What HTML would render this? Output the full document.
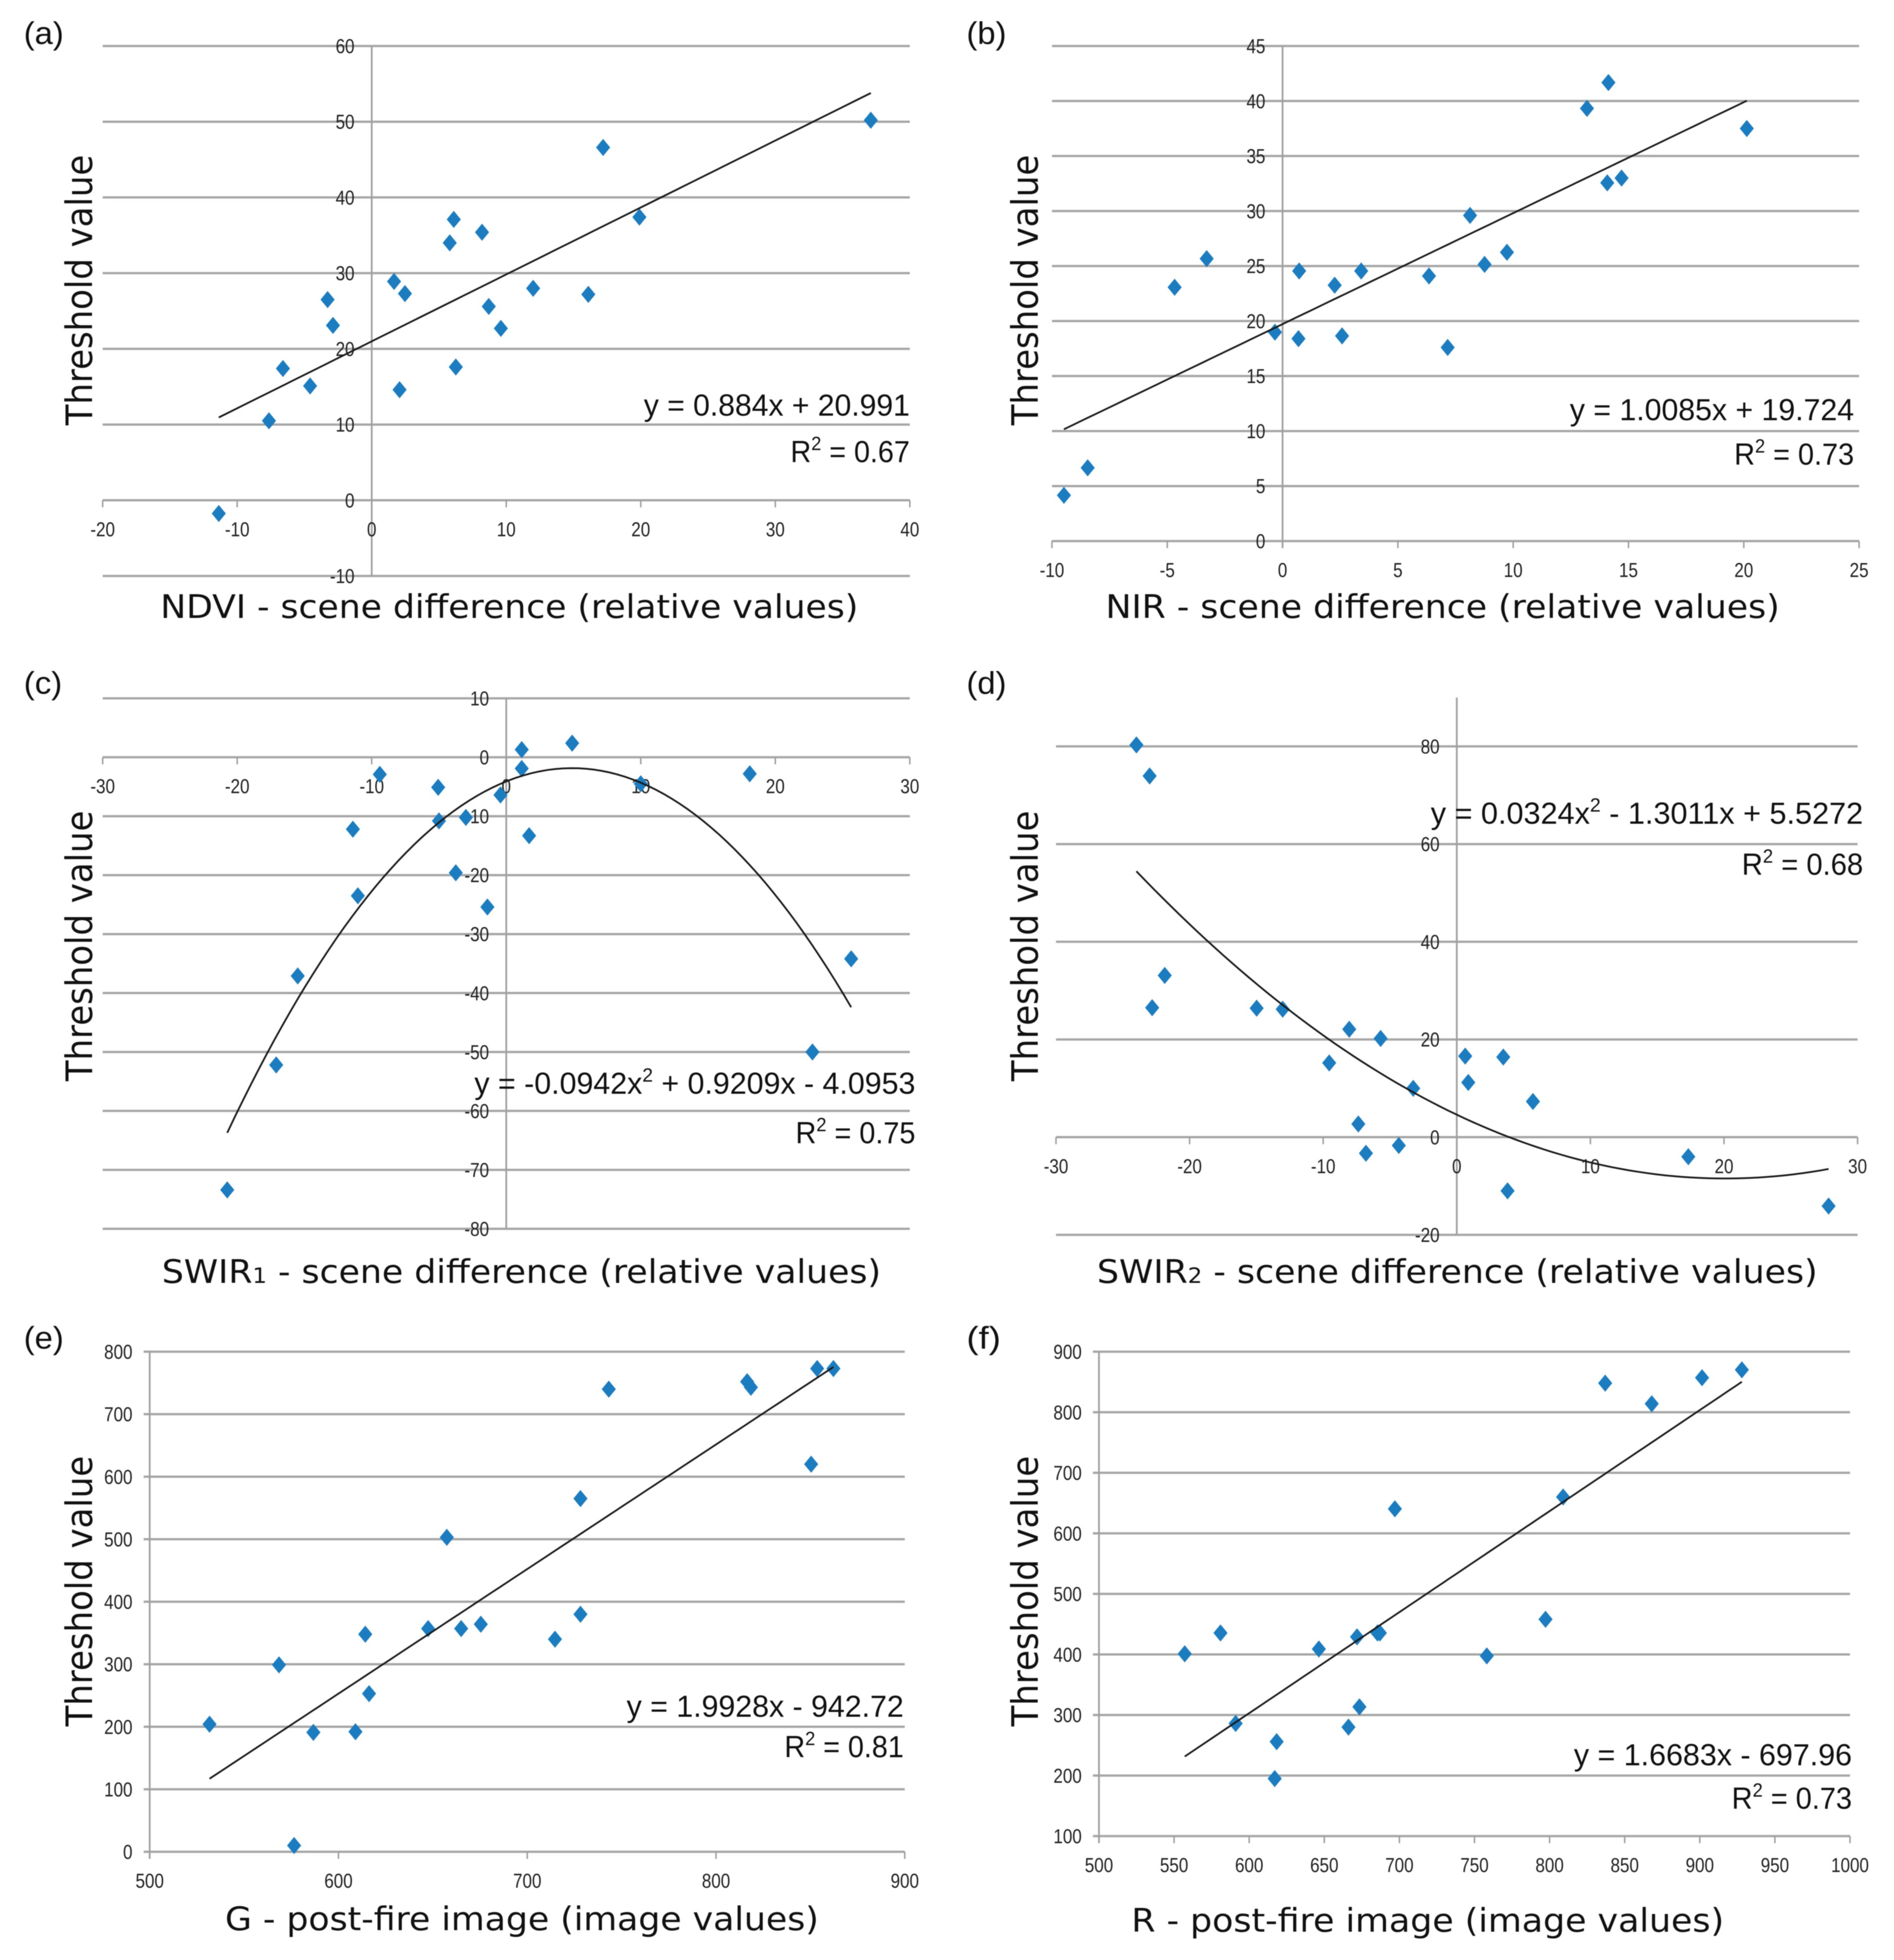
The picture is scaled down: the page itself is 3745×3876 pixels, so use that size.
<!DOCTYPE html>
<html lang="en">
<head>
<meta charset="utf-8">
<title>Threshold value scatter charts</title>
<style>
html,body{margin:0;padding:0;background:#fff;}
svg{display:block;filter:blur(0.8px);}
.axis-title{font-family:"DejaVu Sans","Liberation Sans",sans-serif;fill:#111;}
.eq{font-family:"Liberation Sans",sans-serif;font-size:60px;fill:#111;}
.panel-label{font-family:"Liberation Sans",sans-serif;font-size:62px;fill:#111;}
.tick{font-family:"Liberation Sans",sans-serif;font-size:40px;fill:#222;}
</style>
</head>
<body>
<svg id="fig" xmlns="http://www.w3.org/2000/svg" width="3745" height="3876" viewBox="0 0 3745 3876">
<rect x="0" y="0" width="3745" height="3876" fill="#ffffff"/>

<g id="panel-a"></g>
<g id="panel-b"></g>
<g id="panel-c"></g>
<g id="panel-d"></g>
<g id="panel-e"></g>
<g id="panel-f"></g>

<text class="panel-label" x="47" y="87" textLength="79" lengthAdjust="spacingAndGlyphs">(a)</text>
<text class="panel-label" x="1911" y="87" textLength="79" lengthAdjust="spacingAndGlyphs">(b)</text>
<text class="panel-label" x="47" y="1372" textLength="76" lengthAdjust="spacingAndGlyphs">(c)</text>
<text class="panel-label" x="1911" y="1372" textLength="79" lengthAdjust="spacingAndGlyphs">(d)</text>
<text class="panel-label" x="47" y="2667" textLength="79" lengthAdjust="spacingAndGlyphs">(e)</text>
<text class="panel-label" x="1911" y="2667" textLength="68" lengthAdjust="spacingAndGlyphs">(f)</text>

<text class="axis-title" font-size="72" transform="rotate(-90 182 841)" x="182" y="841" textLength="535" lengthAdjust="spacingAndGlyphs">Threshold value</text>
<text class="axis-title" font-size="72" transform="rotate(-90 2052 841)" x="2052" y="841" textLength="535" lengthAdjust="spacingAndGlyphs">Threshold value</text>
<text class="axis-title" font-size="72" transform="rotate(-90 182 2138)" x="182" y="2138" textLength="535" lengthAdjust="spacingAndGlyphs">Threshold value</text>
<text class="axis-title" font-size="72" transform="rotate(-90 2052 2138)" x="2052" y="2138" textLength="535" lengthAdjust="spacingAndGlyphs">Threshold value</text>
<text class="axis-title" font-size="72" transform="rotate(-90 182 3414)" x="182" y="3414" textLength="535" lengthAdjust="spacingAndGlyphs">Threshold value</text>
<text class="axis-title" font-size="72" transform="rotate(-90 2052 3414)" x="2052" y="3414" textLength="535" lengthAdjust="spacingAndGlyphs">Threshold value</text>

<text class="axis-title" font-size="64" x="317" y="1222" textLength="1380" lengthAdjust="spacingAndGlyphs">NDVI - scene difference (relative values)</text>
<text class="axis-title" font-size="64" x="2186" y="1222" textLength="1333" lengthAdjust="spacingAndGlyphs">NIR - scene difference (relative values)</text>
<text class="axis-title" font-size="64" x="320" y="2537" textLength="1422" lengthAdjust="spacingAndGlyphs">SWIR<tspan font-size="42">1</tspan> - scene difference (relative values)</text>
<text class="axis-title" font-size="64" x="2169" y="2537" textLength="1425" lengthAdjust="spacingAndGlyphs">SWIR<tspan font-size="42">2</tspan> - scene difference (relative values)</text>
<text class="axis-title" font-size="64" x="445" y="3817" textLength="1174" lengthAdjust="spacingAndGlyphs">G - post-fire image (image values)</text>
<text class="axis-title" font-size="64" x="2237" y="3820" textLength="1172" lengthAdjust="spacingAndGlyphs">R - post-fire image (image values)</text>

<text class="eq" x="1273" y="822" textLength="526" lengthAdjust="spacingAndGlyphs">y = 0.884x + 20.991</text>
<text class="eq" x="1563" y="914" textLength="236" lengthAdjust="spacingAndGlyphs">R<tspan font-size="38" dy="-24">2</tspan><tspan dy="24"> = 0.67</tspan></text>
<text class="eq" x="3104" y="831" textLength="562" lengthAdjust="spacingAndGlyphs">y = 1.0085x + 19.724</text>
<text class="eq" x="3429" y="919" textLength="237" lengthAdjust="spacingAndGlyphs">R<tspan font-size="38" dy="-24">2</tspan><tspan dy="24"> = 0.73</tspan></text>
<text class="eq" x="938" y="2163" textLength="872" lengthAdjust="spacingAndGlyphs">y = -0.0942x<tspan font-size="38" dy="-24">2</tspan><tspan dy="24"> + 0.9209x - 4.0953</tspan></text>
<text class="eq" x="1573" y="2261" textLength="237" lengthAdjust="spacingAndGlyphs">R<tspan font-size="38" dy="-24">2</tspan><tspan dy="24"> = 0.75</tspan></text>
<text class="eq" x="2829" y="1629" textLength="855" lengthAdjust="spacingAndGlyphs">y = 0.0324x<tspan font-size="38" dy="-24">2</tspan><tspan dy="24"> - 1.3011x + 5.5272</tspan></text>
<text class="eq" x="3444" y="1730" textLength="240" lengthAdjust="spacingAndGlyphs">R<tspan font-size="38" dy="-24">2</tspan><tspan dy="24"> = 0.68</tspan></text>
<text class="eq" x="1239" y="3395" textLength="548" lengthAdjust="spacingAndGlyphs">y = 1.9928x - 942.72</text>
<text class="eq" x="1551" y="3475" textLength="236" lengthAdjust="spacingAndGlyphs">R<tspan font-size="38" dy="-24">2</tspan><tspan dy="24"> = 0.81</tspan></text>
<text class="eq" x="3112" y="3491" textLength="550" lengthAdjust="spacingAndGlyphs">y = 1.6683x - 697.96</text>
<text class="eq" x="3424" y="3577" textLength="238" lengthAdjust="spacingAndGlyphs">R<tspan font-size="38" dy="-24">2</tspan><tspan dy="24"> = 0.73</tspan></text>
</svg>

<script>
// Panel (a)
var xTicksA = [-20,-10,0,10,20,30,40];
var yTicksA = [-10,0,10,20,30,40,50,60];
var xValuesA = [-11.37,-7.64,-6.6,-4.58,-3.28,-2.88,1.66,2.07,2.47,5.8,6.1,6.25,8.2,8.7,9.6,12.0,16.1,17.2,19.9,37.1];
var yValuesA = [-1.75,10.5,17.4,15.1,26.5,23.1,28.9,14.6,27.3,34.0,37.1,17.6,35.4,25.6,22.7,28.0,27.2,46.6,37.4,50.2];
var trendA = [0.884,20.991];

// Panel (b)
var xTicksB = [-10,-5,0,5,10,15,20,25];
var yTicksB = [0,5,10,15,20,25,30,35,40,45];
var xValuesB = [-9.48,-8.45,-4.68,-3.29,-0.33,0.69,0.72,2.26,2.58,3.41,6.35,7.16,8.13,8.76,9.73,13.2,14.08,14.13,14.7,20.13];
var yValuesB = [4.16,6.66,23.07,25.67,18.99,18.4,24.55,23.26,18.65,24.55,24.1,17.6,29.6,25.15,26.25,39.33,32.56,41.68,33.0,37.5];
var trendB = [1.0085,19.724];

// Panel (c)
var xTicksC = [-30,-20,-10,0,10,20,30];
var yTicksC = [-80,-70,-60,-50,-40,-30,-20,-10,0,10];
var xValuesC = [-20.74,-17.1,-15.5,-11.4,-11.03,-9.4,-5.06,-5.0,-3.75,-3.0,-1.4,-0.43,1.15,1.15,1.7,4.9,10,18.1,22.76,25.64];
var yValuesC = [-73.4,-52.2,-37.1,-12.2,-23.5,-2.9,-5.1,-10.8,-19.6,-10.2,-25.4,-6.4,1.3,-1.9,-13.3,2.4,-4.5,-2.8,-50,-34.2];
var trendC = [-0.0942,0.9209,-4.0953];

// Panel (d)
var xTicksD = [-30,-20,-10,0,10,20,30];
var yTicksD = [-20,0,20,40,60,80];
var xValuesD = [-23.98,-22.99,-22.8,-21.86,-14.98,-13.03,-9.55,-8.05,-7.37,-6.8,-5.7,-4.34,-3.26,0.63,0.86,3.48,3.8,5.7,17.33,27.83];
var yValuesD = [80.3,73.95,26.5,33.1,26.4,26.2,15.2,22.1,2.7,-3.3,20.2,-1.7,10,16.6,11.2,16.4,-11,7.3,-4,-14.1];
var trendD = [0.0324,-1.3011,4.6];

// Panel (e)
var xTicksE = [500,600,700,800,900];
var yTicksE = [0,100,200,300,400,500,600,700,800];
var xValuesE = [531.7,568.5,576.5,586.7,609,614.2,616.2,647.5,657.4,665,675.4,714.7,728.2,728.2,743.2,816.5,818.5,850.4,853.6,862.2];
var yValuesE = [204,299,10,191,192,348,253,357,503,357,364,340,380,565,740,752,743,620,773,773];
var trendE = [1.9928,-942.72];

// Panel (f)
var xTicksF = [500,550,600,650,700,750,800,850,900,950,1000];
var yTicksF = [100,200,300,400,500,600,700,800,900];
var xValuesF = [557.1,580.9,591,617,618.3,646.4,666.1,671.8,673.4,685.4,687,697,758.2,797.3,809,837,868,901.5,928];
var yValuesF = [401,435.5,286,195,256,409,280,429,313.5,435.5,435.5,640.5,397.6,458,660,848,814,857,870];
var trendF = [1.6683,-697.96];

var SVGNS = 'http://www.w3.org/2000/svg';
var GRID = '#a6a6a6';
var AXIS = '#a0a0a0';
var BLUE = '#1c7cc0';

function make(tag, parent, attrs) {
  var el = document.createElementNS(SVGNS, tag);
  for (var k in attrs) { el.setAttribute(k, attrs[k]); }
  parent.appendChild(el);
  return el;
}

function evalPoly(coeffs, x) {
  var v = 0;
  for (var i = 0; i < coeffs.length; i++) { v = v * x + coeffs[i]; }
  return v;
}

function tickText(parent, str, x, y, anchor) {
  var t = make('text', parent, {'class': 'tick', x: x, y: y, 'text-anchor': anchor});
  t.textContent = String(str);
  var w = t.getComputedTextLength();
  t.setAttribute('textLength', (w * 0.84).toFixed(1));
  t.setAttribute('lengthAdjust', 'spacingAndGlyphs');
  return t;
}

function drawPanel(id, box, xTicks, yTicks, xs, ys, coeffs, yAxisMax) {
  var g = document.getElementById('panel-' + id);
  var xMin = xTicks[0], xMax = xTicks[xTicks.length - 1];
  var yMin = yTicks[0], yMax = yTicks[yTicks.length - 1];
  var sx = function (v) { return box.left + (v - xMin) / (xMax - xMin) * (box.right - box.left); };
  var sy = function (v) { return box.bottom - (v - yMin) / (yMax - yMin) * (box.bottom - box.top); };
  var crossY = (yMin <= 0 && yMax >= 0) ? 0 : yMin;
  var crossX = (xMin <= 0 && xMax >= 0) ? 0 : xMin;
  var gridLeft = (crossX === xMin) ? box.left - 12 : box.left;
  var i;

  for (i = 0; i < yTicks.length; i++) {
    var gl = make('line', g, {x1: gridLeft, x2: box.right, y1: sy(yTicks[i]), y2: sy(yTicks[i]), stroke: GRID, 'stroke-width': 4.5});
    
    
  }

  var axisTop = sy(yAxisMax === undefined ? yMax : yAxisMax);
  var axisBottom = (crossY === yMin) ? box.bottom + 14 : box.bottom;
  var ya = make('line', g, {x1: sx(crossX), x2: sx(crossX), y1: axisTop, y2: axisBottom, stroke: AXIS, 'stroke-width': 3.5});
  
  

  for (i = 0; i < xTicks.length; i++) {
    var tm = make('line', g, {x1: sx(xTicks[i]), x2: sx(xTicks[i]), y1: sy(crossY), y2: sy(crossY) + 14, stroke: AXIS, 'stroke-width': 3});
    
    
    var xl = tickText(g, xTicks[i], sx(xTicks[i]), sy(crossY) + 71, 'middle');
    
    
  }

  for (i = 0; i < yTicks.length; i++) {
    var yl = tickText(g, yTicks[i], sx(crossX) - 34, sy(yTicks[i]) + 14, 'end');
    
    
  }

  for (i = 0; i < xs.length; i++) {
    var cx = sx(xs[i]), cy = sy(ys[i]);
    var pt = make('polygon', g, {
      points: cx + ',' + (cy - 17) + ' ' + (cx + 14) + ',' + cy + ' ' + cx + ',' + (cy + 17) + ' ' + (cx - 14) + ',' + cy,
      fill: BLUE
    });
    
    
  }

  var lo = Math.min.apply(null, xs), hi = Math.max.apply(null, xs);
  var d = '';
  for (i = 0; i <= 80; i++) {
    var xv = lo + (hi - lo) * i / 80;
    d += (i ? ' L' : 'M') + sx(xv).toFixed(1) + ' ' + sy(evalPoly(coeffs, xv)).toFixed(1);
  }
  var tl = make('path', g, {d: d, fill: 'none', stroke: '#1a1a1a', 'stroke-width': 3.5});
  
  
}

drawPanel('a', {left: 203, right: 1799, top: 91, bottom: 1139}, xTicksA, yTicksA, xValuesA, yValuesA, trendA);
drawPanel('b', {left: 2080, right: 3676, top: 91, bottom: 1070}, xTicksB, yTicksB, xValuesB, yValuesB, trendB);
drawPanel('c', {left: 203, right: 1799, top: 1381, bottom: 2430}, xTicksC, yTicksC, xValuesC, yValuesC, trendC);
drawPanel('d', {left: 2088, right: 3673, top: 1476, bottom: 2442}, xTicksD, yTicksD, xValuesD, yValuesD, trendD, 90);
drawPanel('e', {left: 296, right: 1789, top: 2673, bottom: 3662}, xTicksE, yTicksE, xValuesE, yValuesE, trendE);
drawPanel('f', {left: 2173, right: 3658, top: 2673, bottom: 3631}, xTicksF, yTicksF, xValuesF, yValuesF, trendF);
</script>
</body>
</html>
